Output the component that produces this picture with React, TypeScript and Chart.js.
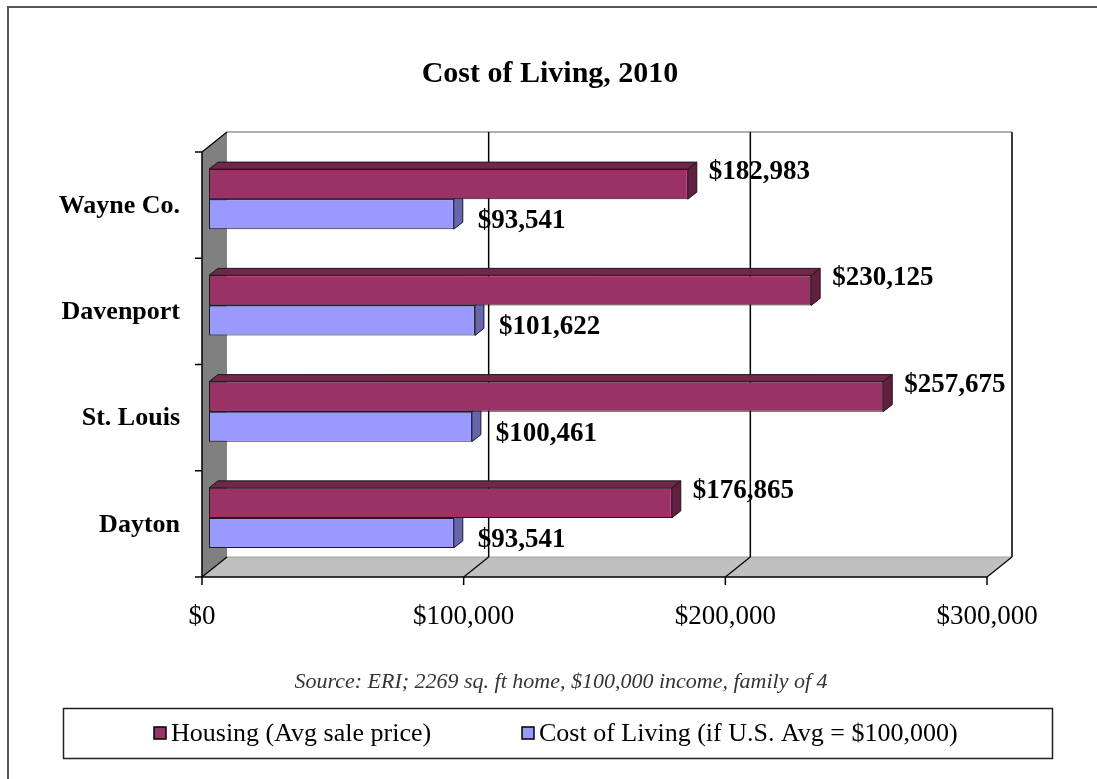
import React, { useEffect, useRef } from 'react';
import { Chart, registerables } from 'chart.js';

Chart.register(...registerables);

const categories = ['Wayne Co.', 'Davenport', 'St. Louis', 'Dayton'];
const housingValues = [182983, 230125, 257675, 176865];
const costOfLivingValues = [93541, 101622, 100461, 93541];
const seriesLabels = ['Housing (Avg sale price)', 'Cost of Living (if U.S. Avg = $100,000)'];
const xTickValues = [0, 100000, 200000, 300000];
const titleText = 'Cost of Living, 2010';
const sourceText = 'Source: ERI; 2269 sq. ft home, $100,000 income, family of 4';

const SERIF = "'Liberation Serif', 'Times New Roman', serif";
const fmt = (v: number) => '$' + v.toLocaleString('en-US');

const FRONT = { dx: -7, dy: 6 };
const BACK = { dx: 18, dy: -14 };
const BAR_DEPTH = { dx: 9, dy: -7 };

const faceColors = [
  { top: '#722649', side: '#631f3f' },
  { top: '#7a7acc', side: '#6666ad' },
];

function poly(ctx: CanvasRenderingContext2D, pts: number[][], fill?: string, stroke?: string, lw = 1) {
  ctx.beginPath();
  ctx.moveTo(pts[0][0], pts[0][1]);
  for (let i = 1; i < pts.length; i++) ctx.lineTo(pts[i][0], pts[i][1]);
  ctx.closePath();
  if (fill) {
    ctx.fillStyle = fill;
    ctx.fill();
  }
  if (stroke) {
    ctx.strokeStyle = stroke;
    ctx.lineWidth = lw;
    ctx.stroke();
  }
}

function line(ctx: CanvasRenderingContext2D, x1: number, y1: number, x2: number, y2: number, color: string, lw = 1) {
  ctx.beginPath();
  ctx.moveTo(x1, y1);
  ctx.lineTo(x2, y2);
  ctx.strokeStyle = color;
  ctx.lineWidth = lw;
  ctx.stroke();
}

const wallsPlugin = {
  id: 'walls3d',
  beforeDatasetsDraw(chart: any) {
    const { ctx, chartArea } = chart;
    const { top, bottom } = chartArea;
    const xs = chart.scales.x;
    const x0 = xs.getPixelForValue(0);
    const xMax = xs.getPixelForValue(xs.max);
    ctx.save();
    // back wall
    ctx.fillStyle = '#ffffff';
    ctx.fillRect(x0 + BACK.dx, top + BACK.dy, xMax - x0, bottom - top);
    line(ctx, x0 + BACK.dx, top + BACK.dy, xMax + BACK.dx, top + BACK.dy, '#b0b0b0', 2);
    // floor
    poly(ctx, [
      [x0 + FRONT.dx, bottom + FRONT.dy],
      [x0 + BACK.dx, bottom + BACK.dy],
      [xMax + BACK.dx, bottom + BACK.dy],
      [xMax + FRONT.dx, bottom + FRONT.dy],
    ], '#c0c0c0');
    line(ctx, x0 + BACK.dx, bottom + BACK.dy, xMax + BACK.dx, bottom + BACK.dy, '#a0a0a0', 1);
    line(ctx, x0 + FRONT.dx, bottom + FRONT.dy, xMax + FRONT.dx, bottom + FRONT.dy, '#000', 1.5);
    // gridlines
    xTickValues.forEach((v) => {
      if (v === 0) return;
      const px = xs.getPixelForValue(v);
      const isLast = v === xs.max;
      line(ctx, px + BACK.dx, top + BACK.dy, px + BACK.dx, bottom + BACK.dy, isLast ? '#3c3c3c' : '#000', isLast ? 2 : 1.5);
      line(ctx, px + BACK.dx, bottom + BACK.dy, px + FRONT.dx, bottom + FRONT.dy, '#000', 1.2);
    });
    // left wall
    poly(ctx, [
      [x0 + FRONT.dx, top + FRONT.dy],
      [x0 + BACK.dx, top + BACK.dy],
      [x0 + BACK.dx, bottom + BACK.dy],
      [x0 + FRONT.dx, bottom + FRONT.dy],
    ], '#808080');
    line(ctx, x0 + FRONT.dx, top + FRONT.dy, x0 + BACK.dx, top + BACK.dy, '#000', 1.2);
    line(ctx, x0 + FRONT.dx, bottom + FRONT.dy, x0 + BACK.dx, bottom + BACK.dy, '#000', 1.2);
    line(ctx, x0 + FRONT.dx, top + FRONT.dy, x0 + FRONT.dx, bottom + FRONT.dy, '#000', 1.5);
    // tick marks
    xTickValues.forEach((v) => {
      const px = xs.getPixelForValue(v) + FRONT.dx;
      line(ctx, px, bottom + FRONT.dy, px, bottom + FRONT.dy + 8, '#000', 1.5);
    });
    const catH = (bottom - top) / categories.length;
    for (let i = 0; i <= categories.length; i++) {
      const yb = top + i * catH + FRONT.dy;
      line(ctx, x0 + FRONT.dx - 7, yb, x0 + FRONT.dx, yb, '#000', 1.5);
    }
    // bar top & side faces (drawn before front faces)
    for (let d = chart.data.datasets.length - 1; d >= 0; d--) {
      const meta = chart.getDatasetMeta(d);
      meta.data.forEach((el: any) => {
        const p = el.getProps(['x', 'y', 'base', 'height'], true);
        const t = p.y - p.height / 2;
        const b = p.y + p.height / 2;
        const s = Math.min(p.base, p.x);
        const e = Math.max(p.base, p.x);
        poly(ctx, [
          [s, t],
          [s + BAR_DEPTH.dx, t + BAR_DEPTH.dy],
          [e + BAR_DEPTH.dx, t + BAR_DEPTH.dy],
          [e, t],
        ], faceColors[d].top, '#1a1a1a', 1);
        poly(ctx, [
          [e, t],
          [e + BAR_DEPTH.dx, t + BAR_DEPTH.dy],
          [e + BAR_DEPTH.dx, b + BAR_DEPTH.dy],
          [e, b],
        ], faceColors[d].side, '#1a1a1a', 1);
      });
    }
    ctx.restore();
  },
};

const labelsPlugin = {
  id: 'valueLabels',
  afterDatasetsDraw(chart: any) {
    const { ctx } = chart;
    ctx.save();
    ctx.font = `bold 27px ${SERIF}`;
    ctx.fillStyle = '#000';
    ctx.textAlign = 'left';
    ctx.textBaseline = 'middle';
    chart.data.datasets.forEach((ds: any, d: number) => {
      const meta = chart.getDatasetMeta(d);
      meta.data.forEach((el: any, i: number) => {
        const p = el.getProps(['x', 'y'], true);
        const dx = d === 0 ? 21 : 24;
        const dy = d === 0 ? -12 : 7;
        ctx.fillText(fmt(ds.data[i]), p.x + dx, p.y + dy);
      });
    });
    ctx.restore();
  },
};

const decorPlugin = {
  id: 'decor',
  beforeDraw(chart: any) {
    const { ctx, width, height } = chart;
    ctx.save();
    ctx.fillStyle = '#fff';
    ctx.fillRect(0, 0, width, height);
    ctx.restore();
  },
  afterDraw(chart: any) {
    const { ctx } = chart;
    ctx.save();
    // outer frame
    ctx.strokeStyle = '#555';
    ctx.lineWidth = 2;
    ctx.beginPath();
    ctx.moveTo(8, 800);
    ctx.lineTo(8, 7);
    ctx.lineTo(1120, 7);
    ctx.stroke();
    // title
    ctx.fillStyle = '#000';
    ctx.textAlign = 'center';
    ctx.textBaseline = 'middle';
    ctx.font = `bold 30px ${SERIF}`;
    ctx.fillText(titleText, 550, 74);
    // source
    ctx.font = `italic 22px ${SERIF}`;
    ctx.fillStyle = '#333';
    ctx.fillText(sourceText, 561, 682);
    // legend box
    ctx.strokeStyle = '#222';
    ctx.lineWidth = 1.5;
    ctx.strokeRect(63.5, 708.5, 989, 50);
    const items = chart.data.datasets;
    const starts = [154, 522];
    ctx.textAlign = 'left';
    ctx.font = `26px ${SERIF}`;
    items.forEach((ds: any, i: number) => {
      const mx = starts[i];
      ctx.fillStyle = ds.backgroundColor;
      ctx.fillRect(mx, 727, 12, 12);
      ctx.strokeStyle = '#000';
      ctx.lineWidth = 1.5;
      ctx.strokeRect(mx, 727, 12, 12);
      ctx.fillStyle = '#000';
      ctx.fillText(ds.label, mx + 17, 734);
    });
    ctx.restore();
  },
};

export default function App() {
  const ref = useRef<HTMLCanvasElement>(null);
  useEffect(() => {
    if (!ref.current) return;
    const chart = new Chart(ref.current, {
      type: 'bar',
      data: {
        labels: categories,
        datasets: [
          {
            label: seriesLabels[0],
            data: housingValues,
            backgroundColor: '#993366',
            borderColor: '#1a1a1a',
            borderWidth: 1,
            borderSkipped: false,
            categoryPercentage: 0.565,
            barPercentage: 1,
          },
          {
            label: seriesLabels[1],
            data: costOfLivingValues,
            backgroundColor: '#9999ff',
            borderColor: '#1a1a1a',
            borderWidth: 1,
            borderSkipped: false,
            categoryPercentage: 0.565,
            barPercentage: 1,
          },
        ],
      },
      options: {
        indexAxis: 'y',
        responsive: false,
        animation: false,
        devicePixelRatio: 1,
        layout: { padding: { left: 0, right: 103, top: 146, bottom: 148 } },
        plugins: {
          legend: { display: false },
          title: { display: false },
          tooltip: { enabled: false },
        },
        scales: {
          x: {
            min: 0,
            max: 300000,
            afterFit: (scale: any) => {
              scale.height = 60;
            },
            afterBuildTicks: (scale: any) => {
              scale.ticks = xTickValues.map((v) => ({ value: v }));
            },
            grid: { display: false, drawTicks: false },
            border: { display: false },
            ticks: {
              padding: 30,
              labelOffset: -7,
              maxRotation: 0,
              color: '#000',
              font: { family: SERIF, size: 27 },
              callback: (v: any) => fmt(Number(v)),
            },
          },
          y: {
            afterFit: (scale: any) => {
              scale.width = 209;
            },
            grid: { display: false, drawTicks: false },
            border: { display: false },
            ticks: {
              padding: 29,
              labelOffset: 7,
              color: '#000',
              font: { family: SERIF, size: 26, weight: 'bold' },
            },
          },
        },
      },
      plugins: [decorPlugin, wallsPlugin, labelsPlugin],
    } as any);
    return () => chart.destroy();
  }, []);
  return (
    <div style={{ position: 'fixed', left: 0, top: 0, width: 1097, height: 779, background: '#fff' }}>
      <canvas ref={ref} width={1097} height={779} style={{ display: 'block', width: 1097, height: 779 }} />
    </div>
  );
}
